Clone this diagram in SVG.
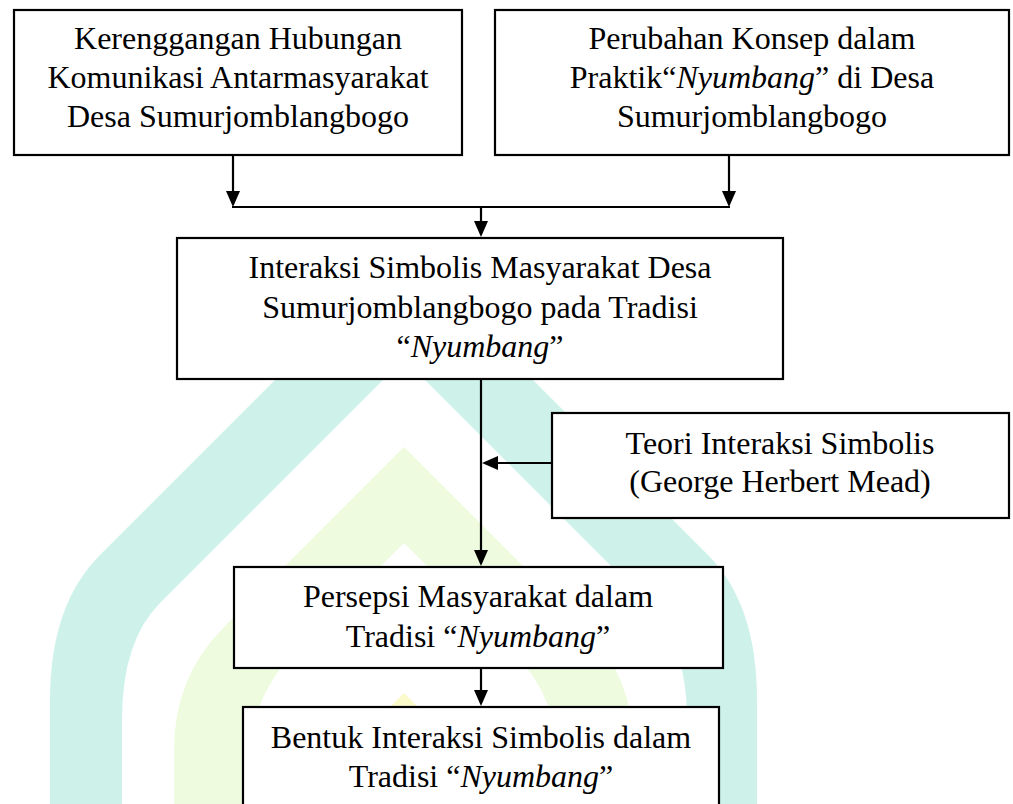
<svg xmlns="http://www.w3.org/2000/svg" width="1013" height="804" viewBox="0 0 1013 804">
<style>
.box{fill:#ffffff;stroke:#000000;stroke-width:2.2}
.t{font-family:"Liberation Serif","Times New Roman",serif;font-size:32px;fill:#000000;text-anchor:middle}
.i{font-style:italic}
.c{fill:none;stroke:#000000;stroke-width:2.2}
</style>
<defs>
<marker id="ah" viewBox="0 0 16 14" refX="13" refY="7" markerWidth="16" markerHeight="14" markerUnits="userSpaceOnUse" orient="auto">
<path d="M0,0 L16,7 L0,14 Z" fill="#000000"/>
</marker>
</defs>
<rect x="0" y="0" width="1013" height="804" fill="#ffffff"/>
<g id="watermark">
<path d="M50,804 L50,700 Q50,605 100,555 L404,251 L708,555 Q757,604 757,700 L757,804 L687,804 L687,720 Q687,642 648,603 L404,359 L160,603 Q122,641 122,720 L122,804 Z" fill="#CEF2EA"/>
<path d="M174,804 L174,750 Q174,677 224,627 L404,447 L584,627 Q634,677 634,750 L634,804 L559,804 L559,770 Q559,698 514,653 L404,543 L294,653 Q249,698 249,770 L249,804 Z" fill="#EEFBDE"/>
<path d="M404,693 L293,804 L515,804 Z" fill="#FAFACB"/>
</g>
<g id="connectors">
<path class="c" d="M233,155 V204" marker-end="url(#ah)"/>
<path class="c" d="M729,155 V204" marker-end="url(#ah)"/>
<path class="c" d="M232,207 H730"/>
<path class="c" d="M481,207 V234" marker-end="url(#ah)"/>
<path class="c" d="M481,379 V563" marker-end="url(#ah)"/>
<path class="c" d="M552,463 H485" marker-end="url(#ah)"/>
<path class="c" d="M481,668 V703" marker-end="url(#ah)"/>
</g>
<g id="node1">
<rect class="box" x="14" y="10" width="448" height="145"/>
<text class="t" x="238" y="49">Kerenggangan Hubungan</text>
<text class="t" x="238" y="88">Komunikasi Antarmasyarakat</text>
<text class="t" x="238" y="127">Desa Sumurjomblangbogo</text>
</g>
<g id="node2">
<rect class="box" x="495" y="10" width="514" height="145"/>
<text class="t" x="752" y="49">Perubahan Konsep dalam</text>
<text class="t" x="752" y="88">Praktik“<tspan class="i">Nyumbang</tspan>” di Desa</text>
<text class="t" x="752" y="127">Sumurjomblangbogo</text>
</g>
<g id="node3">
<rect class="box" x="177" y="238" width="606" height="141"/>
<text class="t" x="480" y="278">Interaksi Simbolis Masyarakat Desa</text>
<text class="t" x="480" y="318">Sumurjomblangbogo pada Tradisi</text>
<text class="t" x="480" y="357">“<tspan class="i">Nyumbang</tspan>”</text>
</g>
<g id="node4">
<rect class="box" x="552" y="413" width="457" height="105"/>
<text class="t" x="780" y="454">Teori Interaksi Simbolis</text>
<text class="t" x="780" y="492">(George Herbert Mead)</text>
</g>
<g id="node5">
<rect class="box" x="234" y="567" width="489" height="101"/>
<text class="t" x="478" y="607">Persepsi Masyarakat dalam</text>
<text class="t" x="478" y="647">Tradisi “<tspan class="i">Nyumbang</tspan>”</text>
</g>
<g id="node6">
<rect class="box" x="243" y="707" width="476" height="130"/>
<text class="t" x="481" y="748">Bentuk Interaksi Simbolis dalam</text>
<text class="t" x="481" y="787">Tradisi “<tspan class="i">Nyumbang</tspan>”</text>
</g>
</svg>
